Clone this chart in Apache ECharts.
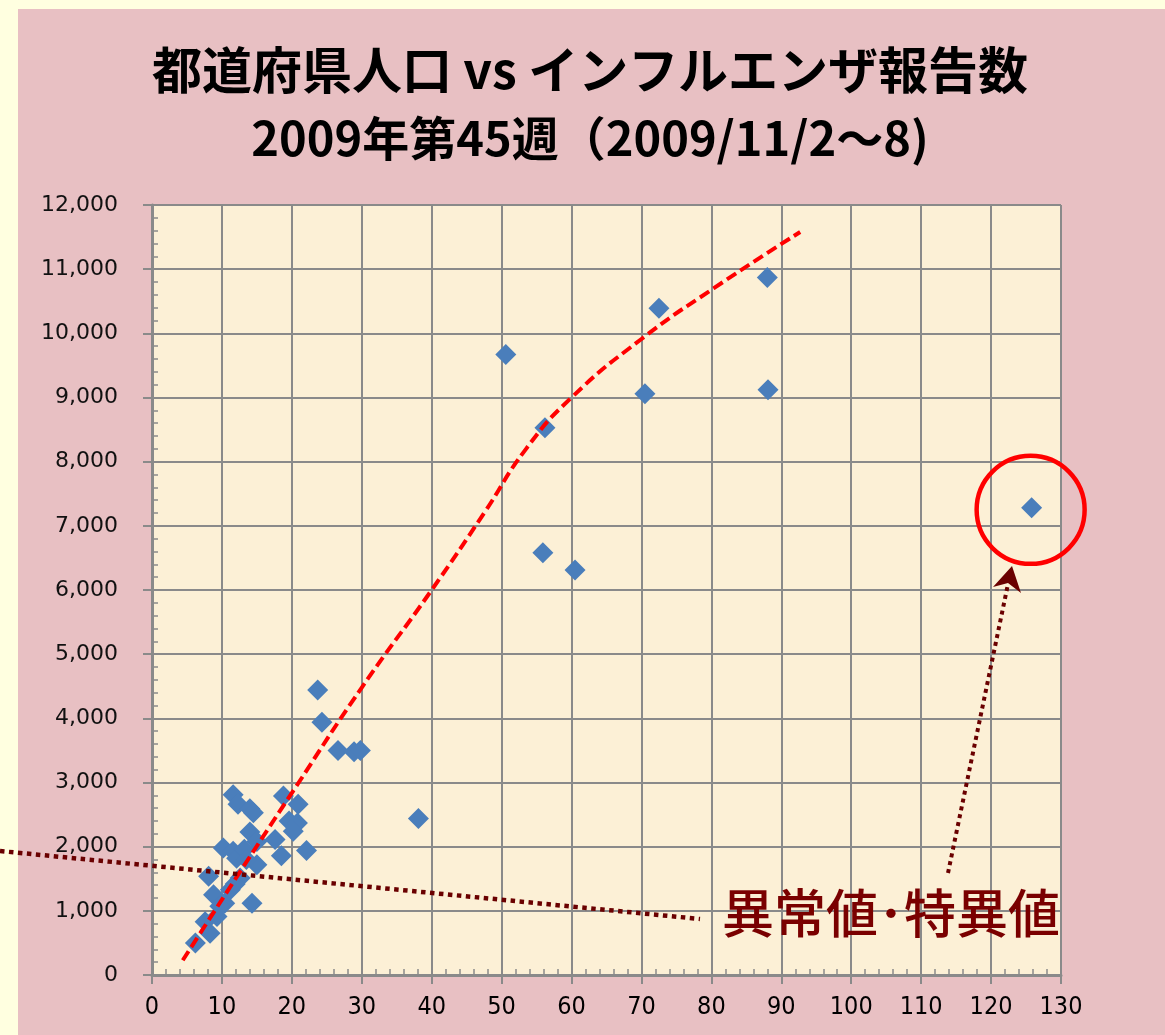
<!DOCTYPE html>
<html>
<head>
<meta charset="utf-8">
<script src="https://cdn.jsdelivr.net/npm/echarts@6.0.0/dist/echarts.min.js"></script>
<style>
  html, body { margin: 0; padding: 0; background: #ffffe0; }
  #main { width: 1165px; height: 1035px; }
</style>
</head>
<body>
<div id="main"></div>
<script>
// 人口（10万人）
var population = [125.8, 88.0, 88.1, 72.5, 70.5, 50.6, 56.2, 55.9, 60.5, 38.1,
  23.7, 24.3, 26.6, 28.9, 29.8,
  11.6, 12.3, 14.0, 14.5, 18.8, 20.9, 19.6, 20.8, 20.2, 14.0,
  15.0, 17.6, 22.1, 18.5, 10.2, 11.6, 12.1, 15.0, 12.6, 8.1,
  8.8, 10.4, 11.2, 14.3, 7.6, 8.3, 6.2, 9.3, 9.7, 13.2, 13.5, 11.9];
// インフルエンザ報告数
var reports = [7280, 10870, 9120, 10390, 9060, 9670, 8530, 6580, 6310, 2440,
  4440, 3940, 3500, 3480, 3500,
  2810, 2660, 2590, 2530, 2790, 2660, 2400, 2370, 2240, 2230,
  2080, 2110, 1940, 1860, 1980, 1930, 1820, 1720, 1510, 1540,
  1250, 1120, 1330, 1120, 830, 650, 500, 910, 1070, 1960, 1800, 1420];

// 傾向線（赤い破線）
var trendX = [4.4, 12.3, 20.2, 30, 40, 47.5, 53.5, 60, 70.1, 80.3, 92.7];
var trendY = [230, 1560, 2870, 4480, 6000, 7200, 8200, 9000, 9920, 10700, 11580];

var xTicks = { min: 0, max: 130, interval: 10 };
var yTicks = { min: 0, max: 12000, interval: 1000 };

var outlierIndex = 0;

var myChart = echarts.init(document.getElementById('main'));

var gray = '#8a8a8a';
var darkRed = '#6a0000';

var option = {
  backgroundColor: '#e8c0c3',
  animation: false,
  title: {
    text: '{a|都道府県人口 vs インフルエンザ報告数}\n{b|2009年第45週（2009/11/2～8)}',
    left: 590,
    top: 36,
    padding: 0,
    textAlign: 'center',
    textStyle: {
      rich: {
        a: {
          fontFamily: 'Noto Sans CJK JP', fontWeight: 'bold', fontSize: 50,
          lineHeight: 68, color: '#000'
        },
        b: {
          fontFamily: 'Noto Sans CJK JP', fontWeight: 'bold', fontSize: 47,
          lineHeight: 68, color: '#000'
        }
      }
    }
  },
  grid: {
    left: 152,
    top: 205,
    right: 104,
    bottom: 60,
    show: true,
    backgroundColor: '#fcf0d6',
    borderWidth: 0
  },
  xAxis: {
    type: 'value',
    min: xTicks.min,
    max: xTicks.max,
    interval: xTicks.interval,
    axisLine: { lineStyle: { color: gray, width: 3 } },
    axisTick: { show: true, length: 9, lineStyle: { color: gray, width: 2 } },
    minorTick: { show: true, splitNumber: 5, length: -6, lineStyle: { color: gray, width: 1.5 } },
    splitLine: { show: true, lineStyle: { color: gray, width: 2 } },
    axisLabel: {
      margin: 20,
      color: '#000',
      fontSize: 25,
      fontFamily: "'Liberation Sans Narrow', 'DejaVu Sans Condensed', sans-serif"
    }
  },
  yAxis: {
    type: 'value',
    min: yTicks.min,
    max: yTicks.max,
    interval: yTicks.interval,
    axisLine: { show: true, lineStyle: { color: gray, width: 3 } },
    axisTick: { show: true, length: 9, lineStyle: { color: gray, width: 2 } },
    minorTick: { show: true, splitNumber: 5, length: -6, lineStyle: { color: gray, width: 1.5 } },
    splitLine: { show: true, lineStyle: { color: gray, width: 2 } },
    axisLabel: {
      margin: 34,
      color: '#111',
      fontSize: 22,
      fontFamily: 'DejaVu Sans',
      formatter: function (v) { return v.toLocaleString('en-US'); }
    }
  },
  series: [
    {
      name: '報告数',
      type: 'scatter',
      symbol: 'diamond',
      symbolSize: 21,
      itemStyle: { color: '#4a7ebb', opacity: 1 },
      data: population.map(function (p, i) { return [p, reports[i]]; }),
      z: 3
    },
    {
      name: '傾向',
      type: 'line',
      smooth: 0.5,
      symbol: 'none',
      lineStyle: { color: '#ff0000', width: 4, type: [11, 5] },
      data: trendX.map(function (x, i) { return [x, trendY[i]]; }),
      z: 4
    }
  ]
};

myChart.setOption(option);

// 注釈（外れ値の丸、矢印、点線、テキスト）
var c = myChart.convertToPixel({ gridIndex: 0 }, [population[outlierIndex], reports[outlierIndex]]);
var tip = [1012, 566];
var tail = [948, 873];
myChart.setOption({
  graphic: [
    { type: 'rect', shape: { x: 0, y: 0, width: 1165, height: 9 }, style: { fill: '#ffffe0' }, silent: true },
    { type: 'rect', shape: { x: 0, y: 0, width: 18, height: 1035 }, style: { fill: '#ffffe0' }, silent: true },
    {
      type: 'circle', z: 10,
      shape: { cx: c[0] - 1, cy: c[1] + 2, r: 54 },
      style: { fill: 'none', stroke: '#ff0000', lineWidth: 4.5 }
    },
    {
      type: 'line', z: 10,
      shape: { x1: 0, y1: 851, x2: 700, y2: 919 },
      style: { stroke: darkRed, lineWidth: 4.5, lineDash: [4.5, 4.5] }
    },
    {
      type: 'line', z: 10,
      shape: { x1: tail[0], y1: tail[1], x2: 1008, y2: 584 },
      style: { stroke: darkRed, lineWidth: 4, lineDash: [4, 4] }
    },
    {
      type: 'polygon', z: 10,
      shape: { points: [tip, [1021, 593], [1008, 583], [993, 587]] },
      style: { fill: darkRed }
    },
    {
      type: 'text', z: 10,
      x: 722, y: 913,
      style: {
        text: '異常値･特異値',
        fill: '#7a0000',
        font: '500 52px "Noto Sans CJK JP"',
        verticalAlign: 'middle'
      }
    }
  ]
});
</script>
</body>
</html>
